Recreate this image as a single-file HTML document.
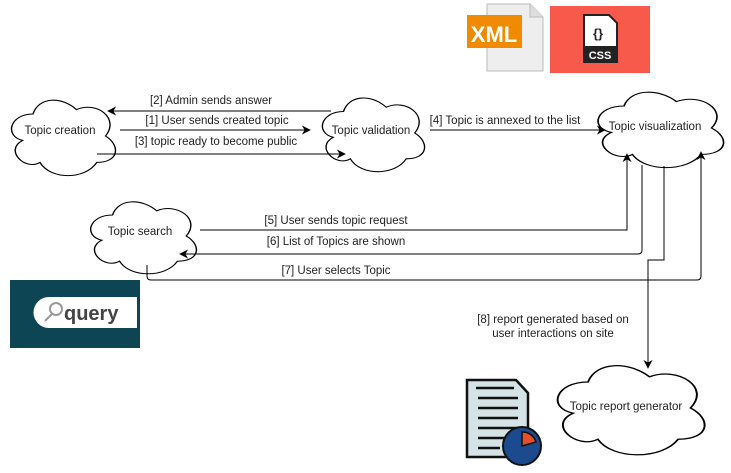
<!DOCTYPE html>
<html><head><meta charset="utf-8"><style>
html,body{margin:0;padding:0;background:#fff;width:731px;height:473px;overflow:hidden}
svg{display:block}
text{font-family:"Liberation Sans",sans-serif;font-size:11.5px;fill:#222}
</style></head><body>
<svg width="731" height="473" viewBox="0 0 731 473" xmlns="http://www.w3.org/2000/svg">
<defs>
<path id="cl" d="M25,25 C5,25 0,50 16,55 C0,66 18,90 31,80 C40,100 70,100 80,80 C100,80 100,60 87.5,50 C100,30 80,10 62.5,20 C50,5 30,5 25,25 Z"/>
<marker id="ar" viewBox="0 0 10 10" refX="9" refY="5" markerWidth="9" markerHeight="9" orient="auto" markerUnits="userSpaceOnUse"><path d="M0,0 L10,5 L0,10 L3,5 Z" fill="#000"/></marker>
</defs>
<g fill="#fff" stroke="#000" stroke-width="1.2">
<use href="#cl" vector-effect="non-scaling-stroke" transform="translate(4,92) scale(1.16,0.88)"/>
<use href="#cl" vector-effect="non-scaling-stroke" transform="translate(315,90) scale(1.14,0.86)"/>
<use href="#cl" vector-effect="non-scaling-stroke" transform="translate(589,84) scale(1.40,0.88)"/>
<use href="#cl" vector-effect="non-scaling-stroke" transform="translate(83,194) scale(1.18,0.84)"/>
<use href="#cl" vector-effect="non-scaling-stroke" transform="translate(547,356) scale(1.64,1.04)"/>
</g>
<g text-anchor="middle">
<text x="60" y="134">Topic creation</text>
<text x="371" y="134">Topic validation</text>
<text x="655" y="130">Topic visualization</text>
<text x="140" y="235">Topic search</text>
<text x="626" y="410">Topic report generator</text>
</g>
<g stroke="#000" stroke-width="1" fill="none" marker-end="url(#ar)">
<path d="M331,111 L108,111"/>
<path d="M120,130 L310,130"/>
<path d="M97,154 L345,154"/>
<path d="M430,130 L605,130"/>
<path d="M200,230 L627,230 L627,154"/>
<path d="M642,165 L642,250 Q642,254 638,254 L180,254"/>
<path d="M664,166 L664,260 L648,260 L648,368"/>
<path d="M147,265 L147,276 Q147,280 151,280 L697,280 Q701,280 701,276 L701,152"/>
</g>
<g text-anchor="middle">
<text x="211" y="104">[2] Admin sends answer</text>
<text x="217" y="124">[1] User sends created topic</text>
<text x="216" y="145">[3] topic ready to become public</text>
<text x="505" y="124">[4] Topic is annexed to the list</text>
<text x="336" y="224">[5] User sends topic request</text>
<text x="336" y="245">[6] List of Topics are shown</text>
<text x="336" y="274">[7] User selects Topic</text>
<text x="553" y="323">[8] report generated based on</text>
<text x="553" y="337">user interactions on site</text>
</g>
<path d="M487,4 L530,4 L543,17 L543,71 L487,71 Z" fill="#eee" stroke="#bbb"/>
<path d="M530,4 L530,17 L543,17" fill="#ddd" stroke="#bbb"/>
<rect x="467" y="15" width="55" height="33" fill="#f08a00"/>
<text x="494" y="42" text-anchor="middle" style="font-size:22px;font-weight:bold;fill:#fff">XML</text>
<rect x="550" y="6" width="100" height="67" fill="#f75a4a"/>
<path d="M584,15 L609,15 L617,23 L617,62 L584,62 Z" fill="#fff" stroke="#222" stroke-width="2"/>
<rect x="584" y="46" width="33" height="16" fill="#222"/>
<text x="600" y="59" text-anchor="middle" style="font-size:11px;font-weight:bold;fill:#fff">CSS</text>
<text x="598" y="38" text-anchor="middle" style="font-size:13px;font-weight:bold;fill:#222">{}</text>
<rect x="10" y="280" width="130" height="68" fill="#0e4555"/>
<path d="M49,297 L137,297 L137,328 L49,328 A15.5,15.5 0 0,1 49,297 Z" fill="#fff"/>
<circle cx="56" cy="309" r="6" fill="none" stroke="#999" stroke-width="2"/>
<line x1="52" y1="314" x2="45" y2="321" stroke="#999" stroke-width="2"/>
<text x="64" y="320" style="font-size:20px;font-weight:bold;fill:#444">query</text>
<path d="M467,380 L516,380 L528,393 L528,457 L467,457 Z" fill="#d6e3e6" stroke="#111" stroke-width="2.5"/>
<g stroke="#111" stroke-width="2.5">
<line x1="476" y1="388" x2="514" y2="388"/><line x1="478" y1="398" x2="518" y2="398"/>
<line x1="478" y1="408" x2="518" y2="408"/><line x1="478" y1="418" x2="518" y2="418"/>
<line x1="478" y1="428" x2="518" y2="428"/><line x1="478" y1="438" x2="505" y2="438"/>
<line x1="478" y1="448" x2="500" y2="448"/>
</g>
<circle cx="522" cy="446" r="19" fill="#1c4a8e" stroke="#111" stroke-width="2"/>
<path d="M522,446 L522,432 A14,14 0 0,1 536,442 Z" fill="#e94e2a" stroke="#111" stroke-width="1.5"/>
</svg>
</body></html>
